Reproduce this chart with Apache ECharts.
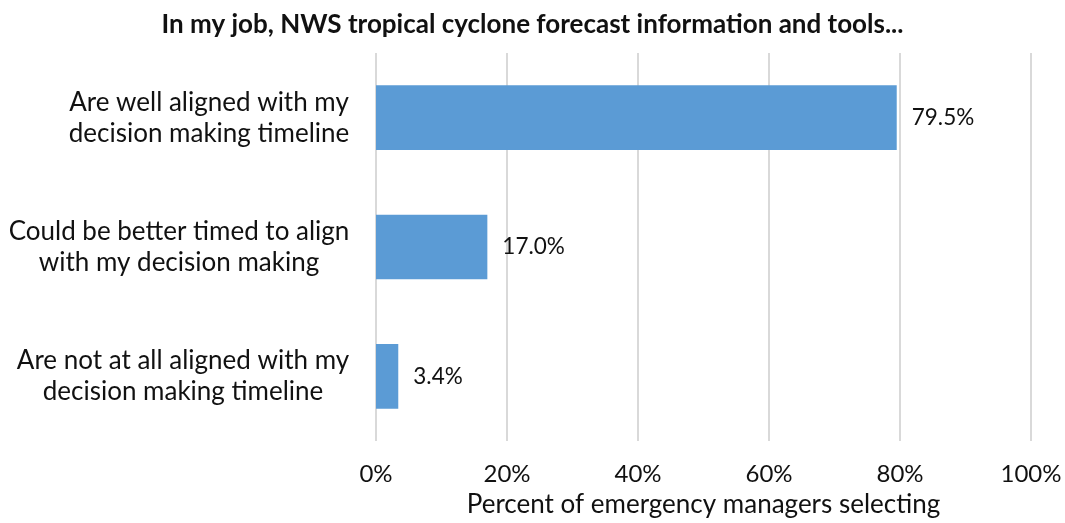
<!DOCTYPE html>
<html>
<head>
<meta charset="utf-8">
<script src="https://cdn.jsdelivr.net/npm/echarts@6/dist/echarts.min.js"></script>
<style>
  html, body { margin: 0; padding: 0; background: #fff; }
  #chart { width: 1065px; height: 523px; }
</style>
</head>
<body>
<div id="chart"></div>
<script>
// Survey responses, top to bottom
const categories = [
  'Are well aligned with my\ndecision making timeline',
  'Could be better timed to align\nwith my decision making',
  'Are not at all aligned with my\ndecision making timeline'
];
const percentages = [79.5, 17.0, 3.4];
const titleText = 'In my job, NWS tropical cyclone forecast information and tools...';
const xAxisName = 'Percent of emergency managers selecting';

const FONT = 'Lato, "Open Sans", sans-serif';
const CAT_SIZE = 26;
const TEXT = '#111';

// Each label block is right-aligned against the axis, its lines centred within it.
const ctx = document.createElement('canvas').getContext('2d');
ctx.font = CAT_SIZE + 'px ' + FONT;
const rich = {};
categories.forEach((c, i) => {
  const w = Math.max(...c.split('\n').map(s => ctx.measureText(s).width));
  rich['b' + i] = { width: Math.ceil(w) + 1, align: 'center', fontSize: CAT_SIZE,
                    fontFamily: FONT, color: TEXT, lineHeight: 31 };
});

const chart = echarts.init(document.getElementById('chart'), null, { renderer: 'canvas' });
chart.setOption({
  animation: false,
  backgroundColor: '#fff',
  title: {
    text: titleText,
    left: 'center',
    top: 7,
    textStyle: { fontFamily: FONT, fontWeight: 'bold', fontSize: 26, color: TEXT }
  },
  grid: { left: 376, right: 34, top: 53, bottom: 82, containLabel: false, outerBoundsMode: 'none' },
  xAxis: {
    type: 'value',
    min: 0, max: 100, interval: 20,
    name: xAxisName,
    nameLocation: 'middle',
    nameGap: 51,
    nameTextStyle: { fontFamily: FONT, fontSize: 26, color: TEXT },
    axisLine: { show: false },
    axisTick: { show: false },
    axisLabel: { formatter: '{value}%', margin: 21, fontFamily: FONT, fontSize: 24, color: TEXT },
    splitLine: { show: true, lineStyle: { color: '#d9d9d9', width: 2 } }
  },
  yAxis: {
    type: 'category',
    inverse: true,
    data: categories,
    axisLine: { show: false },
    axisTick: { show: false },
    axisLabel: {
      margin: 26,
      align: 'right',
      rich: rich,
      formatter: (v) => {
        const i = categories.indexOf(v);
        return v.split('\n').map(s => '{b' + i + '|' + s + '}').join('\n');
      }
    }
  },
  series: [{
    type: 'bar',
    data: percentages,
    barCategoryGap: '50%',
    itemStyle: { color: '#5b9bd5' },
    label: {
      show: true,
      position: 'right',
      distance: 15,
      formatter: p => p.value.toFixed(1) + '%',
      fontFamily: FONT,
      fontSize: 22.5,
      color: TEXT
    }
  }]
});
</script>
</body>
</html>
